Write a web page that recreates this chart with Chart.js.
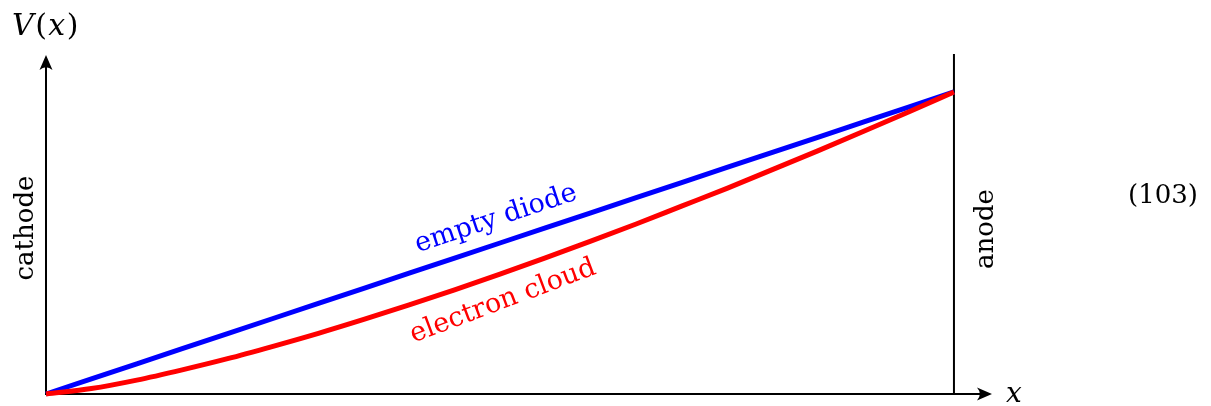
<!DOCTYPE html>
<html>
<head>
<meta charset="utf-8">
<script src="https://cdn.jsdelivr.net/npm/chart.js@4.4.1/dist/chart.umd.min.js"></script>
<style>
  html, body { margin: 0; padding: 0; background: #fff; }
  #wrap { width: 1211px; height: 406px; position: relative; }
</style>
</head>
<body>
<div id="wrap"><canvas id="c" width="1211" height="406"></canvas></div>
<script>
// Position x (0 = cathode, 1 = anode)
const xValues = [0, 0.05, 0.1, 0.15, 0.2, 0.25, 0.3, 0.35, 0.4, 0.45, 0.5,
                 0.55, 0.6, 0.65, 0.7, 0.75, 0.8, 0.85, 0.9, 0.95, 1.0];
// Potential without charge (straight line)
const emptyDiode = [0, 0.05, 0.1, 0.15, 0.2, 0.25, 0.3, 0.35, 0.4, 0.45, 0.5,
                    0.55, 0.6, 0.65, 0.7, 0.75, 0.8, 0.85, 0.9, 0.95, 1.0];
// Potential with space charge
const electronCloud = [0, 0.018, 0.046, 0.080, 0.117, 0.158, 0.201, 0.247, 0.295, 0.345, 0.397,
                       0.451, 0.506, 0.563, 0.622, 0.681, 0.743, 0.805, 0.869, 0.934, 1.0];
const seriesLabels = ["electron cloud", "empty diode"];
const axisLabels = { y: "V(x)", x: "x", left: "cathode", right: "anode", eq: "(103)" };

const FONT = '"DejaVu Serif", serif';

function arrowHead(ctx, x, y, angle, len, half) {
  ctx.save();
  ctx.translate(x, y);
  ctx.rotate(angle);
  ctx.beginPath();
  ctx.moveTo(0, 0);
  ctx.lineTo(-len, -half);
  ctx.quadraticCurveTo(-len * 0.62, 0, -len, half);
  ctx.closePath();
  ctx.fillStyle = '#000';
  ctx.fill();
  ctx.restore();
}

const decor = {
  id: 'decor',
  beforeDatasetsDraw(chart) {
    const ctx = chart.ctx;
    const xs = chart.scales.x, ys = chart.scales.y;
    const x0 = xs.getPixelForValue(0), y0 = ys.getPixelForValue(0);
    const xEnd = xs.getPixelForValue(xs.max), yEnd = ys.getPixelForValue(ys.max);
    const xAn = xs.getPixelForValue(1);
    ctx.save();
    ctx.strokeStyle = '#000';
    ctx.lineWidth = 2;
    ctx.lineCap = 'butt';
    // x axis
    ctx.beginPath(); ctx.moveTo(x0 - 1, y0); ctx.lineTo(xEnd - 8, y0); ctx.stroke();
    arrowHead(ctx, xEnd, y0, 0, 15, 6.5);
    // y axis
    ctx.beginPath(); ctx.moveTo(x0, y0 + 1); ctx.lineTo(x0, yEnd + 8); ctx.stroke();
    arrowHead(ctx, x0, yEnd, -Math.PI / 2, 15, 6.5);
    // anode line
    ctx.beginPath(); ctx.moveTo(xAn, y0); ctx.lineTo(xAn, yEnd - 1); ctx.stroke();
    ctx.restore();
  },
  afterDatasetsDraw(chart) {
    const ctx = chart.ctx;
    const xs = chart.scales.x, ys = chart.scales.y;
    ctx.save();
    ctx.fillStyle = '#000';
    ctx.textBaseline = 'alphabetic';
    // V(x)
    const parts = [["V", true], ["(", false], ["x", true], [")", false]];
    let w = 0;
    parts.forEach(p => { ctx.font = (p[1] ? 'italic ' : '') + '30px ' + FONT; w += ctx.measureText(p[0]).width + 1.5; });
    let px = 46 - w / 2;
    parts.forEach(p => {
      ctx.font = (p[1] ? 'italic ' : '') + '30px ' + FONT;
      ctx.textAlign = 'left';
      ctx.fillText(p[0], px, 35);
      px += ctx.measureText(p[0]).width + 1.5;
    });
    // x label
    ctx.font = 'italic 28px ' + FONT;
    ctx.textAlign = 'center';
    ctx.fillText(axisLabels.x, 1014, 402);
    // equation number
    ctx.font = '26px ' + FONT;
    ctx.fillText(axisLabels.eq, 1163, 203);
    // cathode
    ctx.save();
    ctx.translate(33, 228);
    ctx.rotate(-Math.PI / 2);
    ctx.textAlign = 'center';
    ctx.font = '26px ' + FONT;
    ctx.fillText(axisLabels.left, 0, 0);
    ctx.restore();
    // anode
    ctx.save();
    ctx.translate(993, 229);
    ctx.rotate(-Math.PI / 2);
    ctx.textAlign = 'center';
    ctx.fillText(axisLabels.right, 0, 0);
    ctx.restore();
    // empty diode label
    ctx.font = '27px ' + FONT;
    ctx.save();
    ctx.fillStyle = '#0000ff';
    ctx.translate(xs.getPixelForValue(0.498), ys.getPixelForValue(0.498) - 18);
    ctx.rotate(-Math.atan(0.3326));
    ctx.textAlign = 'center';
    ctx.fillText(seriesLabels[1], 0, 0);
    ctx.restore();
    // electron cloud label
    ctx.save();
    ctx.fillStyle = '#ff0000';
    ctx.translate(xs.getPixelForValue(0.506), ys.getPixelForValue(0.404) + 36);
    ctx.rotate(-0.36);
    ctx.textAlign = 'center';
    ctx.fillText(seriesLabels[0], 0, 0);
    ctx.restore();
    ctx.restore();
  }
};

const ctx = document.getElementById('c').getContext('2d');
new Chart(ctx, {
  type: 'line',
  data: {
    labels: xValues,
    datasets: [
      {
        label: seriesLabels[0],
        data: xValues.map((x, i) => ({ x: x, y: electronCloud[i] })),
        borderColor: '#ff0000',
        borderWidth: 5,
        pointRadius: 0,
        cubicInterpolationMode: 'monotone',
        clip: false,
        fill: false
      },
      {
        label: seriesLabels[1],
        data: xValues.map((x, i) => ({ x: x, y: emptyDiode[i] })),
        borderColor: '#0000ff',
        borderWidth: 5,
        pointRadius: 0,
        tension: 0,
        clip: false,
        fill: false
      }
    ]
  },
  options: {
    responsive: false,
    animation: false,
    devicePixelRatio: 1,
    layout: { padding: { left: 46, right: 219, top: 55, bottom: 12 } },
    plugins: { legend: { display: false }, tooltip: { enabled: false } },
    scales: {
      x: { type: 'linear', min: 0, max: 1.0419, display: false },
      y: { type: 'linear', min: 0, max: 1.1225, display: false }
    }
  },
  plugins: [decor]
});
</script>
</body>
</html>
